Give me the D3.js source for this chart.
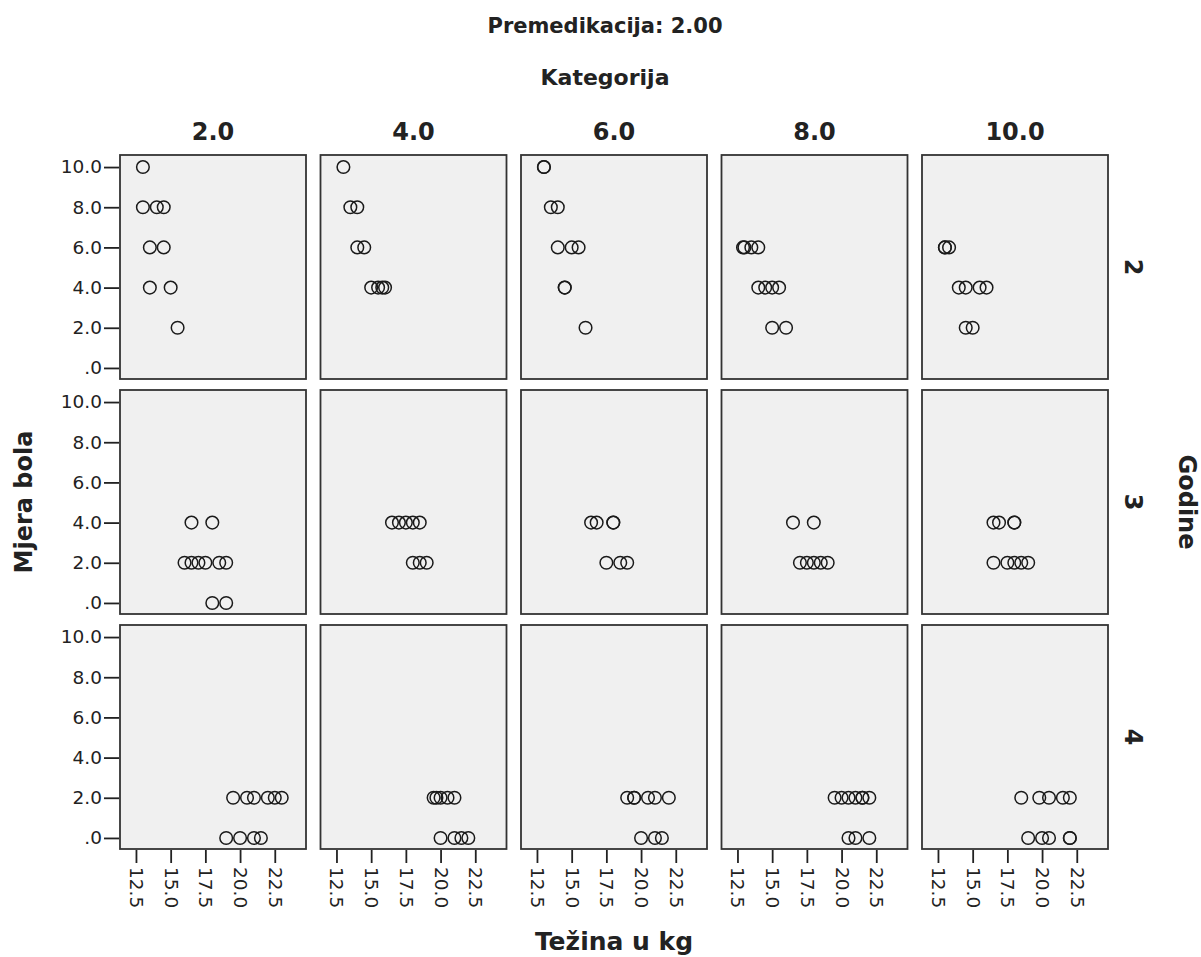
<!DOCTYPE html>
<html>
<head>
<meta charset="utf-8">
<script src="https://cdn.jsdelivr.net/npm/d3@7"></script>
<style>
  html, body { margin: 0; padding: 0; background: #ffffff; }
  svg text { font-family: "DejaVu Sans", Verdana, sans-serif; fill: #222; }
</style>
</head>
<body>
<svg id="chart" width="1201" height="957"></svg>
<script>
// ---------- data ----------
const titleText = "Premedikacija: 2.00";
const colTitle = "Kategorija";
const rowTitle = "Godine";
const xTitle = "Težina u kg";
const yTitle = "Mjera bola";

const kategorije = ["2.0", "4.0", "6.0", "8.0", "10.0"];
const godine = ["2", "3", "4"];
const xTicks = [12.5, 15.0, 17.5, 20.0, 22.5];
const yTicks = [0, 2, 4, 6, 8, 10];

// [Težina u kg, Mjera bola] per panel (Godine row, Kategorija column)
const g2_k2  = [[13.0,10],[13.0,8],[14.0,8],[14.5,8],[13.5,6],[14.5,6],[13.5,4],[15.0,4],[15.5,2]];
const g2_k4  = [[13.0,10],[13.5,8],[14.0,8],[14.0,6],[14.5,6],[15.0,4],[15.5,4],[15.8,4],[16.0,4]];
const g2_k6  = [[13.0,10],[13.0,10],[13.5,8],[14.0,8],[14.0,6],[15.0,6],[15.5,6],[14.5,4],[14.5,4],[16.0,2]];
const g2_k8  = [[12.9,6],[13.0,6],[13.5,6],[14.0,6],[14.0,4],[14.5,4],[15.0,4],[15.5,4],[15.0,2],[16.0,2]];
const g2_k10 = [[13.0,6],[13.0,6],[13.3,6],[14.0,4],[14.5,4],[15.5,4],[16.0,4],[14.5,2],[15.0,2]];

const g3_k2  = [[16.5,4],[18.0,4],[16.0,2],[16.5,2],[17.0,2],[17.5,2],[18.5,2],[19.0,2],[18.0,0],[19.0,0]];
const g3_k4  = [[16.5,4],[17.0,4],[17.5,4],[18.0,4],[18.5,4],[18.0,2],[18.5,2],[19.0,2]];
const g3_k6  = [[16.4,4],[16.8,4],[18.0,4],[18.0,4],[17.5,2],[18.5,2],[19.0,2]];
const g3_k8  = [[16.5,4],[18.0,4],[17.0,2],[17.5,2],[18.0,2],[18.5,2],[19.0,2]];
const g3_k10 = [[16.5,4],[16.9,4],[18.0,4],[18.0,4],[16.5,2],[17.5,2],[18.0,2],[18.5,2],[19.0,2]];

const g4_k2  = [[19.5,2],[20.5,2],[21.0,2],[22.0,2],[22.5,2],[23.0,2],[19.0,0],[20.0,0],[21.0,0],[21.5,0]];
const g4_k4  = [[19.5,2],[19.7,2],[20.0,2],[20.5,2],[21.0,2],[20.0,0],[21.0,0],[21.5,0],[22.0,0]];
const g4_k6  = [[19.0,2],[19.5,2],[19.5,2],[20.5,2],[21.0,2],[22.0,2],[20.0,0],[21.0,0],[21.5,0]];
const g4_k8  = [[19.5,2],[20.0,2],[20.5,2],[21.0,2],[21.5,2],[21.5,2],[22.0,2],[20.5,0],[21.0,0],[22.0,0]];
const g4_k10 = [[18.5,2],[19.8,2],[20.5,2],[21.5,2],[22.0,2],[19.0,0],[20.0,0],[20.5,0],[22.0,0],[22.0,0]];

const panels = [
  [g2_k2, g2_k4, g2_k6, g2_k8, g2_k10],
  [g3_k2, g3_k4, g3_k6, g3_k8, g3_k10],
  [g4_k2, g4_k4, g4_k6, g4_k8, g4_k10]
];

// ---------- layout ----------
const svg = d3.select("#chart");
const panelW = 186, panelH = 224;
const colLeft = d3.scaleLinear().domain([0, kategorije.length - 1]).range([120, 922]);
const rowTop = d3.scaleLinear().domain([0, godine.length - 1]).range([155, 625]);

const x = d3.scaleLinear().domain([11.35, 24.75]).range([0, panelW]);
const y = d3.scaleLinear().domain([-0.55, 10.6]).range([panelH, 0]);

const fmtY = d => d === 0 ? ".0" : d3.format(".1f")(d);
const fmtX = d3.format(".1f");

// titles
svg.append("text").attr("x", 605).attr("y", 33).attr("text-anchor", "middle")
  .attr("font-size", 21).attr("font-weight", "bold").text(titleText);
svg.append("text").attr("x", 605).attr("y", 85).attr("text-anchor", "middle")
  .attr("font-size", 22).attr("font-weight", "bold").text(colTitle);

kategorije.forEach((k, i) => {
  svg.append("text").attr("x", colLeft(i) + panelW / 2).attr("y", 140)
    .attr("text-anchor", "middle").attr("font-size", 24).attr("font-weight", "bold").text(k);
});

godine.forEach((g, j) => {
  svg.append("text")
    .attr("transform", `translate(1125,${rowTop(j) + panelH / 2}) rotate(90)`)
    .attr("text-anchor", "middle").attr("font-size", 24).attr("font-weight", "bold").text(g);
});

svg.append("text")
  .attr("transform", `translate(1179,${(rowTop(0) + rowTop(2) + panelH) / 2}) rotate(90)`)
  .attr("text-anchor", "middle").attr("font-size", 24).attr("font-weight", "bold").text(rowTitle);

svg.append("text")
  .attr("transform", `translate(32,${(rowTop(0) + rowTop(2) + panelH) / 2}) rotate(-90)`)
  .attr("text-anchor", "middle").attr("font-size", 24).attr("font-weight", "bold").text(yTitle);

svg.append("text")
  .attr("x", (colLeft(0) + colLeft(4) + panelW) / 2).attr("y", 950)
  .attr("text-anchor", "middle").attr("font-size", 25).attr("font-weight", "bold").text(xTitle);

// panels
panels.forEach((row, j) => {
  row.forEach((pts, i) => {
    const g = svg.append("g").attr("transform", `translate(${colLeft(i)},${rowTop(j)})`);
    g.append("rect").attr("x", 0).attr("y", 0).attr("width", panelW).attr("height", panelH)
      .attr("fill", "#f0f0f0").attr("stroke", "#333").attr("stroke-width", 1.8);

    g.selectAll("circle").data(pts).enter().append("circle")
      .attr("cx", d => x(d[0])).attr("cy", d => y(d[1])).attr("r", 6.3)
      .attr("fill", "none").attr("stroke", "#1a1a1a").attr("stroke-width", 1.5);

    if (i === 0) {
      const ax = g.append("g").attr("transform", "translate(-1,0)")
        .call(d3.axisLeft(y).tickValues(yTicks).tickFormat(fmtY).tickSize(15).tickPadding(2));
      ax.select(".domain").remove();
      ax.selectAll("line").attr("stroke", "#222").attr("stroke-width", 1.8);
      ax.selectAll("text").attr("font-size", 18.5).attr("fill", "#222")
        .attr("font-family", "DejaVu Sans");
    }
    if (j === panels.length - 1) {
      const ax = g.append("g").attr("transform", `translate(0,${panelH + 1})`)
        .call(d3.axisBottom(x).tickValues(xTicks).tickFormat(fmtX).tickSize(13).tickPadding(4));
      ax.select(".domain").remove();
      ax.selectAll("line").attr("stroke", "#222").attr("stroke-width", 1.8);
      ax.selectAll("text")
        .attr("font-size", 18.5).attr("fill", "#222").attr("font-family", "DejaVu Sans")
        .attr("text-anchor", "start")
        .attr("y", 0).attr("dy", "0.35em")
        .attr("transform", "translate(0,17) rotate(90)");
    }
  });
});
</script>
</body>
</html>
